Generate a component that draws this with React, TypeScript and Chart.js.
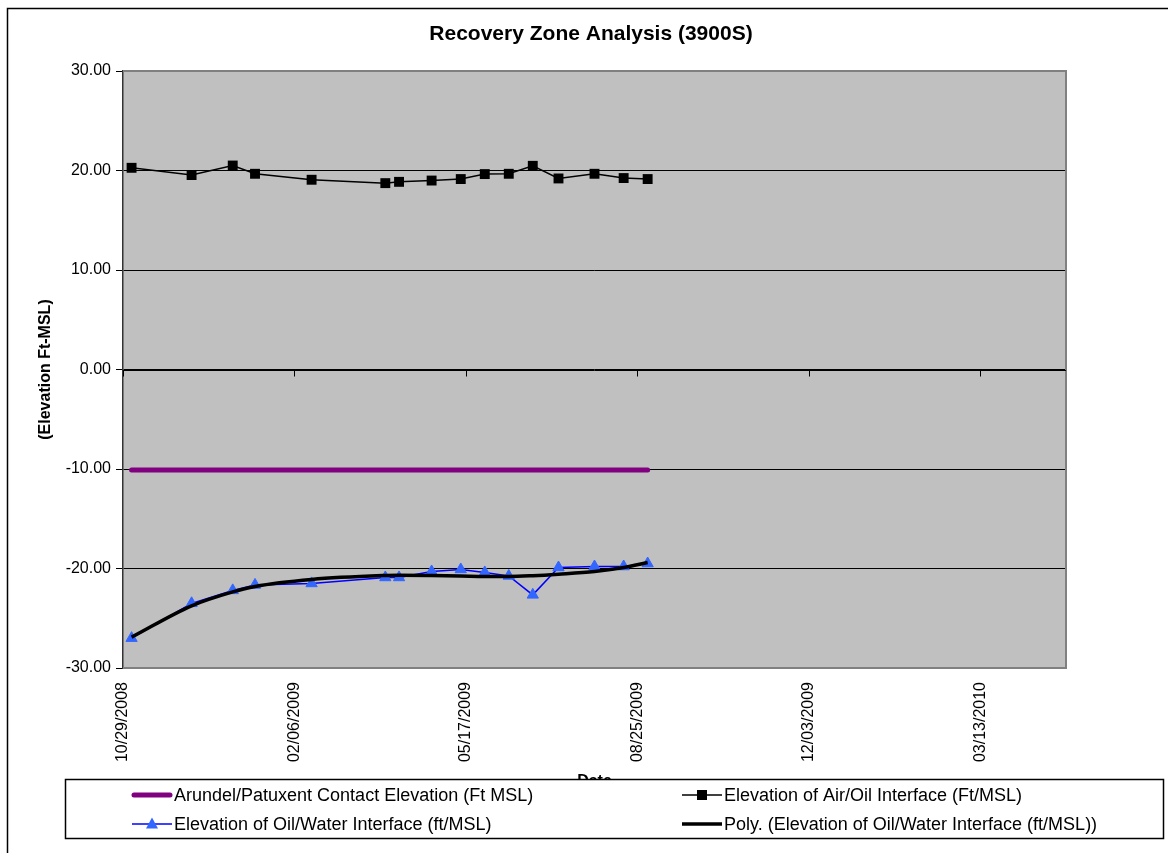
import React, { useEffect, useRef } from "react";
import { Chart, registerables } from "chart.js";

Chart.register(...registerables);

// ---------- data ----------
const chartTitle = "Recovery Zone Analysis (3900S)";
const yAxisTitle = "(Elevation Ft-MSL)";
const xAxisTitle = "Date";

const axisStartDate = "2008-10-29";
const sampleDates = [
  "2008-11-03", "2008-12-08", "2009-01-01", "2009-01-14", "2009-02-16",
  "2009-03-31", "2009-04-08", "2009-04-27", "2009-05-14", "2009-05-28",
  "2009-06-11", "2009-06-25", "2009-07-10", "2009-07-31", "2009-08-17",
  "2009-08-31",
];

const contactElevation = [
  -10.1, -10.1, -10.1, -10.1, -10.1, -10.1, -10.1, -10.1,
  -10.1, -10.1, -10.1, -10.1, -10.1, -10.1, -10.1, -10.1,
];
const airOilInterface = [
  20.27, 19.54, 20.5, 19.67, 19.07, 18.73, 18.86, 18.99,
  19.14, 19.64, 19.67, 20.47, 19.2, 19.67, 19.24, 19.14,
];
const oilWaterInterface = [
  -27.0, -23.5, -22.2, -21.65, -21.5, -20.9, -20.9, -20.3,
  -20.1, -20.4, -20.75, -22.65, -19.9, -19.8, -19.8, -19.5,
];
const polyTrend = [
  -26.9, -23.75, -22.35, -21.8, -21.1, -20.7, -20.67, -20.7,
  -20.75, -20.8, -20.8, -20.72, -20.57, -20.3, -19.9, -19.4,
];

const seriesLabels = [
  "Arundel/Patuxent Contact Elevation (Ft MSL)",
  "Elevation of Air/Oil Interface (Ft/MSL)",
  "Elevation of Oil/Water Interface (ft/MSL)",
  "Poly. (Elevation of Oil/Water Interface (ft/MSL))",
];

const xMinDays = 0;
const xMaxDays = 550;
const xStepDays = 100;
const yMin = -30;
const yMax = 30;
const yStep = 10;

// ---------- helpers ----------
const DAY = 86400000;
const startMs = Date.parse(axisStartDate + "T00:00:00Z");
const dayOf = (s: string) => Math.round((Date.parse(s + "T00:00:00Z") - startMs) / DAY);
const fmtDay = (d: number) => {
  const dt = new Date(startMs + d * DAY);
  const mm = String(dt.getUTCMonth() + 1).padStart(2, "0");
  const dd = String(dt.getUTCDate()).padStart(2, "0");
  return `${mm}/${dd}/${dt.getUTCFullYear()}`;
};
const pts = (vals: number[]) => sampleDates.map((d, i) => ({ x: dayOf(d), y: vals[i] }));

const FONT = '"Liberation Sans", Arial, sans-serif';

const PURPLE = "#800080";
const BLUE_LINE = "#0000FF";
const BLUE_MARK = "#3366FF";

const framePlugin = {
  id: "frameAndBg",
  beforeDraw(chart: any) {
    const { ctx, chartArea: a } = chart;
    ctx.save();
    ctx.fillStyle = "#ffffff";
    ctx.fillRect(0, 0, chart.width, chart.height);
    ctx.strokeStyle = "#000000";
    ctx.lineWidth = 1.5;
    ctx.beginPath();
    ctx.moveTo(7.5, chart.height + 5);
    ctx.lineTo(7.5, 8.5);
    ctx.lineTo(chart.width + 5, 8.5);
    ctx.stroke();
    ctx.fillStyle = "#C0C0C0";
    ctx.fillRect(a.left, a.top, a.right - a.left, a.bottom - a.top);
    ctx.fillStyle = "#000";
    ctx.font = `bold 21px ${FONT}`;
    ctx.textAlign = "center";
    ctx.textBaseline = "middle";
    ctx.fillText(chartTitle, 591, 34);
    ctx.restore();
  },
  beforeDatasetsDraw(chart: any) {
    const { ctx, chartArea: a, scales } = chart;
    ctx.save();
    ctx.strokeStyle = "#808080";
    ctx.lineWidth = 2;
    ctx.beginPath();
    ctx.moveTo(a.left, a.top);
    ctx.lineTo(a.right, a.top);
    ctx.lineTo(a.right, a.bottom);
    ctx.lineTo(a.left, a.bottom);
    ctx.stroke();
    // horizontal axis crossing at 0
    const y0 = Math.round(scales.y.getPixelForValue(0)) + 0.5;
    ctx.strokeStyle = "#000";
    ctx.lineWidth = 1;
    ctx.beginPath();
    ctx.moveTo(a.left, y0);
    ctx.lineTo(a.right, y0);
    for (let d = xMinDays; d <= xMaxDays - xStepDays / 2; d += xStepDays) {
      const px = Math.round(scales.x.getPixelForValue(d)) + 0.5;
      ctx.moveTo(px, y0);
      ctx.lineTo(px, y0 + 6);
    }
    ctx.stroke();
    ctx.restore();
  },
};

const legendPlugin = {
  id: "boxLegend",
  afterDraw(chart: any) {
    const { ctx } = chart;
    ctx.save();
    ctx.fillStyle = "#fff";
    ctx.fillRect(65.5, 779.5, 1098, 59);
    ctx.strokeStyle = "#000";
    ctx.lineWidth = 1.5;
    ctx.strokeRect(65.5, 779.5, 1098, 59);
    const slots = [
      { ds: 0, x: 132, y: 795 },
      { ds: 1, x: 682, y: 795 },
      { ds: 2, x: 132, y: 824 },
      { ds: 3, x: 682, y: 824 },
    ];
    ctx.font = `18px ${FONT}`;
    ctx.textAlign = "left";
    ctx.textBaseline = "middle";
    for (const s of slots) {
      const ds = chart.data.datasets[s.ds];
      ctx.strokeStyle = ds.borderColor;
      ctx.lineWidth = ds.borderWidth;
      ctx.lineCap = s.ds === 0 ? "round" : "butt";
      ctx.beginPath();
      ctx.moveTo(s.x + (s.ds === 0 ? 2 : 0), s.y);
      ctx.lineTo(s.x + 40 - (s.ds === 0 ? 2 : 0), s.y);
      ctx.stroke();
      const cx = s.x + 20;
      if (s.ds === 1) {
        ctx.fillStyle = "#000";
        ctx.fillRect(cx - 5, s.y - 5, 10, 10);
      } else if (s.ds === 2) {
        ctx.fillStyle = BLUE_MARK;
        ctx.beginPath();
        ctx.moveTo(cx, s.y - 6.5);
        ctx.lineTo(cx + 6, s.y + 4.5);
        ctx.lineTo(cx - 6, s.y + 4.5);
        ctx.closePath();
        ctx.fill();
      }
      ctx.fillStyle = "#000";
      ctx.fillText(ds.label, s.x + 42, s.y + 1);
    }
    ctx.restore();
  },
};

export default function App() {
  const ref = useRef<HTMLCanvasElement | null>(null);

  useEffect(() => {
    if (!ref.current) return;
    const chart = new Chart(ref.current, {
      type: "line",
      data: {
        datasets: [
          {
            label: seriesLabels[0],
            data: pts(contactElevation),
            borderColor: PURPLE,
            backgroundColor: PURPLE,
            borderWidth: 5,
            borderCapStyle: "round",
            pointRadius: 0,
            order: 2,
          },
          {
            label: seriesLabels[1],
            data: pts(airOilInterface),
            borderColor: "#000000",
            backgroundColor: "#000000",
            borderWidth: 1.5,
            pointStyle: "rect",
            pointRadius: 7,
            pointBorderWidth: 0,
            order: 2,
          },
          {
            label: seriesLabels[2],
            data: pts(oilWaterInterface),
            borderColor: BLUE_LINE,
            backgroundColor: BLUE_MARK,
            pointBackgroundColor: BLUE_MARK,
            pointBorderColor: BLUE_MARK,
            borderWidth: 1.5,
            pointStyle: "triangle",
            pointRadius: 6.5,
            pointBorderWidth: 1,
            order: 2,
          },
          {
            label: seriesLabels[3],
            data: pts(polyTrend),
            borderColor: "#000000",
            backgroundColor: "#000000",
            borderWidth: 3.5,
            pointRadius: 0,
            cubicInterpolationMode: "monotone",
            order: 1,
          },
        ],
      },
      options: {
        animation: false,
        responsive: false,
        devicePixelRatio: 1,
        layout: { padding: { top: 71, right: 102, left: 0, bottom: 0 } },
        plugins: {
          legend: { display: false },
          title: { display: false },
          tooltip: { enabled: false },
        },
        scales: {
          x: {
            type: "linear",
            min: xMinDays,
            max: xMaxDays,
            afterFit: (s: any) => {
              s.height = 853 - 668;
            },
            grid: { display: false, drawTicks: false },
            border: { display: false },
            ticks: {
              stepSize: xStepDays,
              includeBounds: false,
              autoSkip: false,
              maxRotation: 90,
              minRotation: 90,
              padding: 14,
              color: "#000",
              font: { family: FONT, size: 16 },
              callback: (v: any) => fmtDay(Number(v)),
            },
            title: {
              display: true,
              text: xAxisTitle,
              color: "#000",
              font: { family: FONT, size: 16, weight: "bold" },
              padding: { top: 0, bottom: 62 },
            },
          },
          y: {
            type: "linear",
            min: yMin,
            max: yMax,
            afterFit: (s: any) => {
              s.width = 123;
            },
            grid: {
              color: "#000",
              lineWidth: 1,
              drawTicks: true,
              tickLength: 7,
              tickColor: "#000",
            },
            border: { display: true, color: "#333", width: 1.5 },
            ticks: {
              stepSize: yStep,
              padding: 5,
              color: "#000",
              font: { family: FONT, size: 16 },
              callback: (v: any) => Number(v).toFixed(2),
            },
            title: {
              display: true,
              text: yAxisTitle,
              color: "#000",
              font: { family: FONT, size: 16, weight: "bold" },
              padding: { top: 36, bottom: 0 },
            },
          },
        },
      },
      plugins: [framePlugin, legendPlugin],
    } as any);
    return () => chart.destroy();
  }, []);

  return (
    <div style={{ position: "fixed", left: 0, top: 0, width: 1168, height: 853 }}>
      <canvas ref={ref} width={1168} height={853} style={{ width: 1168, height: 853, display: "block" }} />
    </div>
  );
}
